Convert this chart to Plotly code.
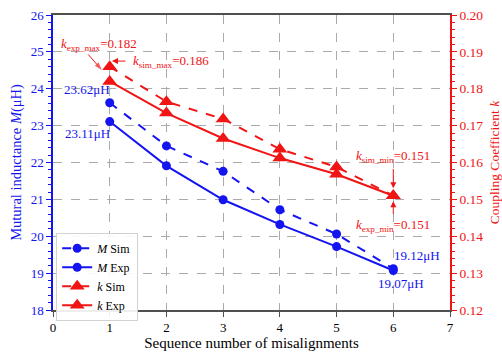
import plotly.graph_objects as go

x_seq = [1, 2, 3, 4, 5, 6]
M_sim = [23.62, 22.45, 21.76, 20.72, 20.06, 19.12]
M_exp = [23.11, 21.91, 20.99, 20.32, 19.72, 19.07]
k_sim = [0.186, 0.1765, 0.1718, 0.1636, 0.1588, 0.151]
k_exp = [0.182, 0.1734, 0.1665, 0.1612, 0.1568, 0.151]

BLUE = "rgb(20,20,240)"
RED = "rgb(240,20,20)"
FONT = "Liberation Serif"

fig = go.Figure()
fig.add_trace(go.Scatter(x=x_seq, y=M_sim, name="<i>M</i> Sim", mode="lines+markers",
                         line=dict(color=BLUE, width=2, dash="dash"),
                         marker=dict(symbol="circle", size=9, color=BLUE)))
fig.add_trace(go.Scatter(x=x_seq, y=M_exp, name="<i>M</i> Exp", mode="lines+markers",
                         line=dict(color=BLUE, width=2),
                         marker=dict(symbol="circle", size=9, color=BLUE)))
fig.add_trace(go.Scatter(x=x_seq, y=k_sim, name="<i>k</i> Sim", mode="lines+markers", yaxis="y2",
                         line=dict(color=RED, width=2, dash="dash"),
                         marker=dict(symbol="triangle-up", size=13, color=RED)))
fig.add_trace(go.Scatter(x=x_seq, y=k_exp, name="<i>k</i> Exp", mode="lines+markers", yaxis="y2",
                         line=dict(color=RED, width=2),
                         marker=dict(symbol="triangle-up", size=13, color=RED)))

# diagonal arrow for k_exp_max (drawn as a thin line with an arrow marker at its head)
fig.add_trace(go.Scatter(x=[0.62, 0.86], y=[0.1893, 0.1851], yaxis="y2", mode="lines+markers",
                         showlegend=False, hoverinfo="skip",
                         line=dict(color=RED, width=1),
                         marker=dict(symbol=["circle", "arrow"], size=[0, 8], color=RED,
                                     angleref="previous", line=dict(width=0))))

ann = []
def txt(x, y, text, color, yref="y"):
    ann.append(dict(x=x, y=y, xref="x", yref=yref, text=text, showarrow=False,
                    font=dict(family=FONT, size=13, color=color)))

def txt_arrow(tx, ty, hx, hy, text, color, yref="y2", startstand=0, stand=0):
    ann.append(dict(x=hx, y=hy, ax=tx, ay=ty, xref="x", yref=yref, axref="x", ayref=yref,
                    text=text, showarrow=True, arrowhead=2, arrowsize=1.2, arrowwidth=1,
                    arrowcolor=color, startstandoff=startstand, standoff=stand,
                    font=dict(family=FONT, size=13, color=color)))

txt(0.81, 0.1921, "<i>k</i><sub>exp_max</sub>=0.182", RED, "y2")
txt_arrow(2.08, 0.1875, 1.04, 0.1875, "<i>k</i><sub>sim_max</sub>=0.186", RED, startstand=6)
txt_arrow(6.0, 0.1615, 6.0, 0.1530, "<i>k</i><sub>sim_min</sub>=0.151", RED, startstand=2)
txt_arrow(6.0, 0.1428, 6.0, 0.1495, "<i>k</i><sub>exp_min</sub>=0.151", RED, startstand=2)

txt(0.6, 23.97, "23.62μH", BLUE)
txt(0.6, 22.78, "23.11μH", BLUE)
txt(6.42, 19.47, "19.12μH", BLUE)
txt(6.14, 18.71, "19.07μH", BLUE)

fig.update_layout(
    width=502, height=354,
    margin=dict(l=53, r=52, t=15, b=44),
    plot_bgcolor="white", paper_bgcolor="white",
    font=dict(family=FONT, size=13, color="black"),
    showlegend=True,
    legend=dict(x=0.008, y=0.262, xanchor="left", yanchor="top",
                bgcolor="rgba(255,255,255,0.9)", bordercolor="rgb(210,210,210)", borderwidth=1,
                font=dict(family=FONT, size=12, color="black"), itemwidth=30,
                tracegroupgap=0),
    xaxis=dict(range=[0, 7], dtick=1, tick0=0, showgrid=True, gridcolor="rgb(170,170,170)",
               griddash="dash", gridwidth=1, showline=True, linecolor="rgb(80,80,80)", linewidth=1.5,
               mirror=True, ticks="outside", ticklen=5, tickcolor="rgb(80,80,80)",
               zeroline=False, automargin=False,
               title=dict(text="Sequence number of misalignments", standoff=1,
                          font=dict(family=FONT, size=15, color="black")),
               tickfont=dict(family=FONT, size=13, color="black")),
    yaxis=dict(range=[18, 26], dtick=1, tick0=18, showgrid=True, gridcolor="rgb(170,170,170)",
               griddash="dash", gridwidth=1, showline=True, linecolor=BLUE, linewidth=1.5,
               ticks="outside", ticklen=5, tickcolor=BLUE, zeroline=False, automargin=False,
               minor=dict(dtick=0.2, ticklen=3, tickcolor=BLUE, ticks="outside", showgrid=False),
               tickfont=dict(family=FONT, size=13, color=BLUE),
               title=dict(text="Mutural inductance <i>M</i>(μH)", standoff=6,
                          font=dict(family=FONT, size=14.5, color=BLUE))),
    yaxis2=dict(range=[0.12, 0.20], dtick=0.01, tick0=0.12, overlaying="y", side="right",
                showgrid=False, showline=True, linecolor=RED, linewidth=1.5,
                ticks="outside", ticklen=5, tickcolor=RED, zeroline=False, tickformat=".2f",
                automargin=False,
                minor=dict(dtick=0.002, ticklen=3, tickcolor=RED, ticks="outside"),
                tickfont=dict(family=FONT, size=13.5, color=RED),
                title=dict(text="Coupling Coefficient <i>k</i>", standoff=9,
                           font=dict(family=FONT, size=13.5, color=RED))),
    annotations=ann,
)

fig.write_html("out.html")
